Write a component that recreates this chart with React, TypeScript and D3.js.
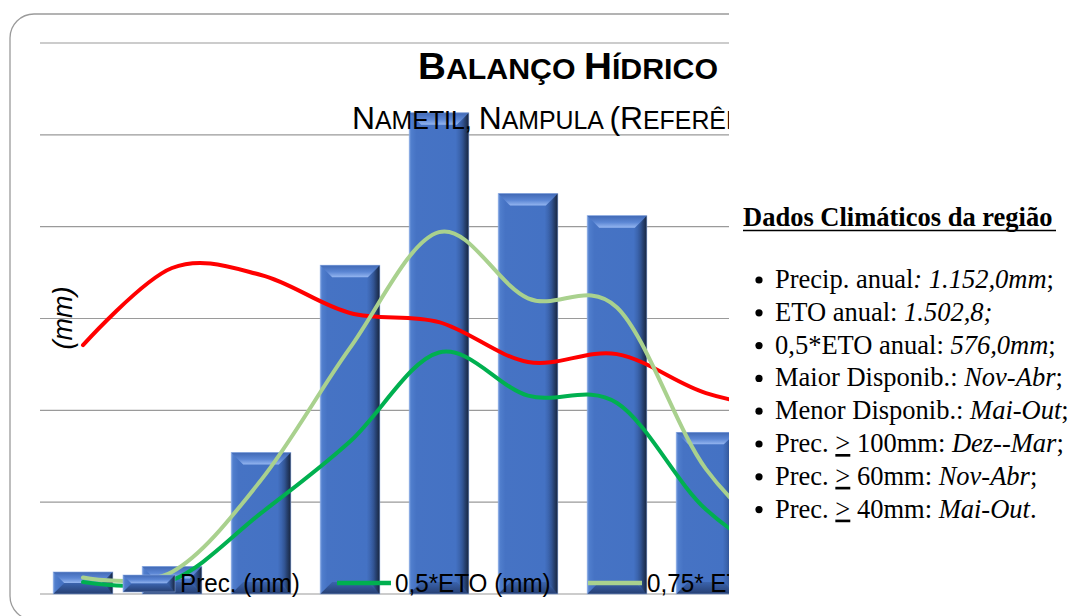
import React from "react";
import * as d3 from "d3";

const months = ["Set", "Out", "Nov", "Dez", "Jan", "Fev", "Mar", "Abr", "Mai", "Jun", "Jul", "Ago"];
const prec = [12, 15, 77, 179, 262, 218, 206, 88, 35, 25, 20, 15];
const eto = [135.5, 177.5, 173.7, 153, 148, 126.3, 130.6, 109.4, 100, 95, 100, 120];
const eto05 = [6.5, 7.5, 44, 83, 131.5, 108, 104, 46, 17, 12, 10, 7];
const eto075 = [9, 12, 62, 134, 197, 161, 156, 68, 26, 19, 15, 11];
const yTicks = [0, 50, 100, 150, 200, 250, 300];

const legendItems = [
  { label: "Prec. (mm)", kind: "bar" },
  { label: "0,5*ETO (mm)", kind: "line", color: "#00b050" },
  { label: "0,75* ETO (mm)", kind: "line", color: "#a9d18e" },
];

const panelTitle = "Dados Climáticos da região";
const panelItems: { parts: { t: string; i?: boolean; u?: boolean }[] }[] = [
  { parts: [{ t: "Precip. anual" }, { t: ":", i: true }, { t: " " }, { t: "1.152,0mm", i: true }, { t: ";" }] },
  { parts: [{ t: "ETO anual: " }, { t: "1.502,8;", i: true }] },
  { parts: [{ t: "0,5*ETO anual: " }, { t: "576,0mm", i: true }, { t: ";" }] },
  { parts: [{ t: "Maior Disponib.: " }, { t: "Nov-Abr", i: true }, { t: ";" }] },
  { parts: [{ t: "Menor Disponib.: " }, { t: "Mai-Out", i: true }, { t: ";" }] },
  { parts: [{ t: "Prec. " }, { t: ">", u: true }, { t: " 100mm: " }, { t: "Dez--Mar", i: true }, { t: ";" }] },
  { parts: [{ t: "Prec. " }, { t: ">", u: true }, { t: " 60mm: " }, { t: "Nov-Abr", i: true }, { t: ";" }] },
  { parts: [{ t: "Prec. " }, { t: ">", u: true }, { t: " 40mm: " }, { t: "Mai-Out", i: true }, { t: "." }] },
];

const W = 1071;
const H = 616;
const plotLeft = 38.5;
const step = 89;
const plotTop = 43;
const plotBottom = 594;
const clipRight = 729;

function Bar({ x, y, w, h }: { x: number; y: number; w: number; h: number }) {
  const b = Math.min(12, h / 2);
  return (
    <g>
      <rect x={x} y={y} width={w} height={h} fill="url(#barBody)" />
      <polygon
        points={`${x},${y} ${x + w},${y} ${x + w - b},${y + b} ${x + b},${y + b}`}
        fill="url(#barTop)"
      />
      <polygon
        points={`${x},${y + h} ${x + w},${y + h} ${x + w - b},${y + h - b} ${x + b},${y + h - b}`}
        fill="url(#barBottom)"
      />
      <polygon
        points={`${x + w},${y} ${x + w},${y + h} ${x + w - b * 0.8},${y + h - b} ${x + w - b * 0.8},${y + b}`}
        fill="url(#barRight)"
      />
      <rect x={x} y={y} width={w} height={h} fill="none" stroke="#8eaee6" strokeWidth={0.8} strokeOpacity={0.7} />
    </g>
  );
}

export default function App() {
  const x = d3
    .scaleBand<string>()
    .domain(months)
    .range([plotLeft, plotLeft + step * months.length])
    .paddingInner(0.33)
    .paddingOuter(0.165);
  const y = d3.scaleLinear().domain([0, 300]).range([plotBottom, plotTop]);
  const cx = (m: string) => (x(m) as number) + x.bandwidth() / 2;

  const line = d3
    .line<number>()
    .x((_, i) => cx(months[i]))
    .y((d) => y(d))
    .curve(d3.curveCardinal.tension(0));

  const series = [
    { values: eto, color: "#ff0000" },
    { values: eto075, color: "#a9d18e" },
    { values: eto05, color: "#00b050" },
  ];

  const legendY = 583;
  const legendPos = [
    { icon: 123, text: 180 },
    { icon: 337, text: 395 },
    { icon: 588, text: 647 },
  ];

  return (
    <svg
      width={W}
      height={H}
      style={{ position: "absolute", left: 0, top: 0, background: "#fff" }}
      xmlns="http://www.w3.org/2000/svg"
    >
      <defs>
        <clipPath id="chartClip">
          <rect x={0} y={0} width={clipRight} height={H} />
        </clipPath>
        <linearGradient id="barBody" x1="0" x2="1" y1="0" y2="0">
          <stop offset="0" stopColor="#7299dc" />
          <stop offset="0.04" stopColor="#4f7dcc" />
          <stop offset="0.12" stopColor="#4673c4" />
          <stop offset="0.78" stopColor="#4472c4" />
          <stop offset="0.9" stopColor="#34599c" />
          <stop offset="1" stopColor="#1c2d4f" />
        </linearGradient>
        <linearGradient id="barTop" x1="0" x2="0" y1="0" y2="1">
          <stop offset="0" stopColor="#4169b5" />
          <stop offset="0.55" stopColor="#5b86d4" />
          <stop offset="1" stopColor="#95b6f0" />
        </linearGradient>
        <linearGradient id="barBottom" x1="0" x2="0" y1="0" y2="1">
          <stop offset="0" stopColor="#3b64ae" />
          <stop offset="1" stopColor="#263f72" />
        </linearGradient>
        <linearGradient id="barRight" x1="0" x2="1" y1="0" y2="0">
          <stop offset="0" stopColor="#34599c" stopOpacity="0" />
          <stop offset="1" stopColor="#18263f" stopOpacity="0.9" />
        </linearGradient>
      </defs>

      <g clipPath="url(#chartClip)">
        <rect x={10} y={14} width={1100} height={606} rx={24} ry={24} fill="#fff" stroke="#9a9a9a" strokeWidth={1.3} />
        {yTicks.map((t) => (
          <line key={t} x1={40} x2={1110} y1={y(t)} y2={y(t)} stroke="#9a9a9a" strokeWidth={1.2} />
        ))}
        {months.map((m, i) => (
          <Bar key={m} x={x(m) as number} y={y(prec[i])} w={x.bandwidth()} h={y(0) - y(prec[i])} />
        ))}
        {series.map((s, i) => (
          <path
            key={i}
            d={line(s.values) || ""}
            fill="none"
            stroke={s.color}
            strokeWidth={4}
            strokeLinecap="round"
            strokeLinejoin="round"
          />
        ))}

        <text x={568} y={78.5} textAnchor="middle" fontFamily="'Liberation Sans', Arial, sans-serif" fontWeight="bold" fill="#000" textLength={300} lengthAdjust="spacingAndGlyphs">
          <tspan fontSize={37}>B</tspan>
          <tspan fontSize={29}>ALANÇO </tspan>
          <tspan fontSize={37}>H</tspan>
          <tspan fontSize={29}>ÍDRICO</tspan>
        </text>
        <text x={352} y={128.5} fontFamily="'Liberation Sans', Arial, sans-serif" fill="#000" textLength={444} lengthAdjust="spacingAndGlyphs">
          <tspan fontSize={32}>N</tspan>
          <tspan fontSize={25}>AMETIL, </tspan>
          <tspan fontSize={32}>N</tspan>
          <tspan fontSize={25}>AMPULA </tspan>
          <tspan fontSize={32}>(R</tspan>
          <tspan fontSize={25}>EFERÊNCIA</tspan>
          <tspan fontSize={32}>)</tspan>
        </text>

        <text
          transform="translate(72,318) rotate(-90)"
          textAnchor="middle"
          fontFamily="'Liberation Sans', Arial, sans-serif"
          fontStyle="italic"
          fontSize={27}
          fill="#000"
        >
          (mm)
        </text>

        {legendItems.map((it, i) => (
          <g key={it.label}>
            {it.kind === "bar" ? (
              <Bar x={legendPos[i].icon} y={legendY - 8} w={52} h={17} />
            ) : (
              <line
                x1={legendPos[i].icon}
                x2={legendPos[i].icon + 54}
                y1={legendY}
                y2={legendY}
                stroke={it.color}
                strokeWidth={4.5}
              />
            )}
            <text
              transform={`translate(${legendPos[i].text},592) scale(0.915,1)`}
              fontFamily="'Liberation Sans', Arial, sans-serif"
              fontSize={26.5}
              fill="#000"
            >
              {it.label}
            </text>
          </g>
        ))}
      </g>

      <g fontFamily="'Liberation Serif', 'Times New Roman', serif" fontSize={26.5} fill="#000">
        <text x={743} y={226} fontWeight="bold">
          {panelTitle}
        </text>
        <line x1={743} x2={1056} y1={230.5} y2={230.5} stroke="#000" strokeWidth={1.6} />
        {panelItems.map((it, i) => {
          const by = 288 + i * 32.8;
          return (
            <g key={i}>
              <circle cx={759} cy={by - 8} r={3.6} fill="#000" />
              <text x={775} y={by}>
                {it.parts.map((p, j) => (
                  <tspan key={j} fontStyle={p.i ? "italic" : "normal"} textDecoration={p.u ? "underline" : undefined}>
                    {p.t}
                  </tspan>
                ))}
              </text>
            </g>
          );
        })}
      </g>
    </svg>
  );
}
